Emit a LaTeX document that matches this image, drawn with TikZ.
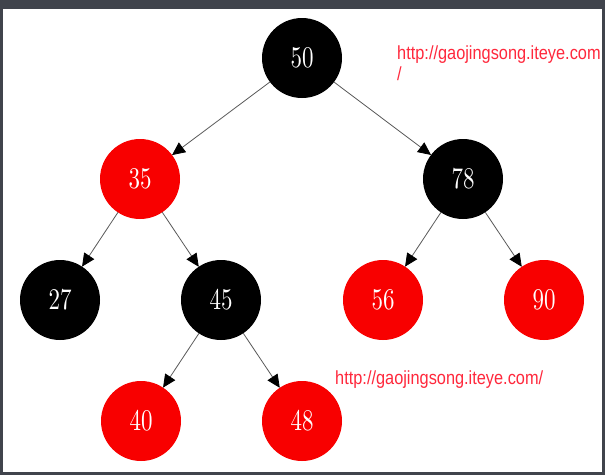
\documentclass[tikz,border=0pt]{standalone}
\usepackage{fontspec}
\usetikzlibrary{arrows.meta}
\newfontfamily\urlfont[FakeStretch=0.86]{Liberation Sans}
\definecolor{framegray}{RGB}{64,68,76}
\definecolor{nodered}{RGB}{248,0,0}
\definecolor{urlred}{RGB}{255,40,60}
\definecolor{edgegray}{RGB}{90,90,90}
\tikzset{
  treenode/.style={circle, minimum size=80pt, inner sep=0pt, outer sep=0pt, text=white,
    font=\fontsize{10}{10}\selectfont},
  blacknode/.style={treenode, fill=black},
  rednode/.style={treenode, fill=nodered},
  edge/.style={draw=edgegray, line width=0.8pt, -{Triangle[length=13pt,width=12pt,fill=black,color=black]}},
  urltext/.style={text=urlred, inner sep=0pt, anchor=base west, font=\urlfont\fontsize{19}{21}\selectfont}
}
\newcommand{\numtxt}[1]{\scalebox{2.3}[3]{#1}}
\begin{document}
\begin{tikzpicture}[x=1pt,y=-1pt]
  \useasboundingbox (0,0) rectangle (605,475);
  \fill[framegray] (0,0) rectangle (605,475);
  \fill[white] (3,9) rectangle (602,472);

  \node[blacknode] (n50) at (302,58) {\numtxt{50}};
  \node[rednode]   (n35) at (140,179) {\numtxt{35}};
  \node[blacknode] (n78) at (463,179) {\numtxt{78}};
  \node[blacknode] (n27) at (60,300) {\numtxt{27}};
  \node[blacknode] (n45) at (221,300) {\numtxt{45}};
  \node[rednode]   (n56) at (383,300) {\numtxt{56}};
  \node[rednode]   (n90) at (544,300) {\numtxt{90}};
  \node[rednode]   (n40) at (141,421) {\numtxt{40}};
  \node[rednode]   (n48) at (302,421) {\numtxt{48}};

  \draw[edge] (n50) -- (n35);
  \draw[edge] (n50) -- (n78);
  \draw[edge] (n35) -- (n27);
  \draw[edge] (n35) -- (n45);
  \draw[edge] (n78) -- (n56);
  \draw[edge] (n78) -- (n90);
  \draw[edge] (n45) -- (n40);
  \draw[edge] (n45) -- (n48);

  \node[urltext] (url1) at (397,59) {http://gaojingsong.iteye.com};
  \node[urltext] (url1b) at (397,80) {/};
  \node[urltext] (url2) at (335,384) {http://gaojingsong.iteye.com/};
\end{tikzpicture}
\end{document}
